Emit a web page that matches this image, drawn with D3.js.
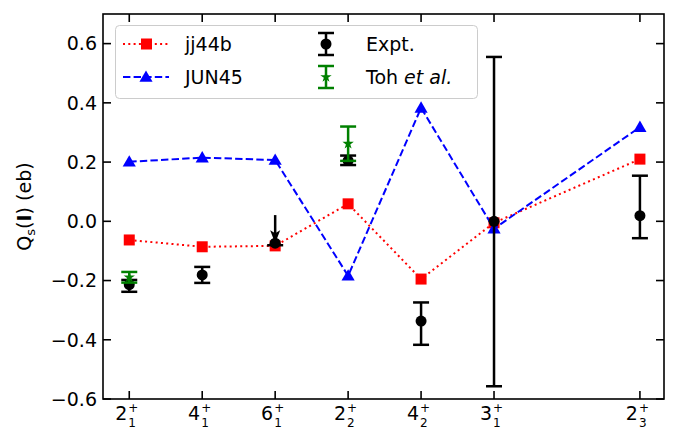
<!DOCTYPE html>
<html>
<head>
<meta charset="utf-8">
<script src="https://cdn.jsdelivr.net/npm/d3@7"></script>
<style>
  body { margin: 0; background: #fff; }
  svg { font-family: "DejaVu Sans", sans-serif; }
</style>
</head>
<body>
<div class="chart"></div>
<script>
// level labels: spin, index (subscript), parity (superscript)
const levelSpin = ['2', '4', '6', '2', '4', '3', '2'];
const levelIdx = ['1', '1', '1', '2', '2', '1', '3'];
const levelPos = [0, 1, 2, 3, 4, 5, 7];

const jj44b = [-0.063, -0.086, -0.083, 0.059, -0.195, -0.005, 0.21];
const jun45 = [0.201, 0.215, 0.207, -0.184, 0.383, -0.025, 0.318];

const exptPos = [0, 1, 2, 3, 4, 5, 7];
const exptVal = [-0.214, -0.181, -0.074, 0.205, -0.337, 0.0, 0.019];
const exptHi = [0.016, 0.027, 0.095, 0.017, 0.063, 0.555, 0.135];
const exptLo = [0.024, 0.027, 0.0, 0.015, 0.08, 0.557, 0.076];
const exptUpperLimit = [false, false, true, false, false, false, false];

const tohPos = [0, 3];
const tohVal = [-0.189, 0.262];
const tohErr = [0.018, 0.058];

const yTicks = [-0.6, -0.4, -0.2, 0.0, 0.2, 0.4, 0.6];

const width = 673, height = 430;
const margin = {top: 14, right: 9, bottom: 31, left: 103};
const fontSize = 19;

const svg = d3.select('.chart').append('svg')
    .attr('width', width)
    .attr('height', height);

const x = d3.scaleLinear()
    .domain([-0.36, 7.33])
    .range([margin.left, width - margin.right]);

const y = d3.scaleLinear()
    .domain([-0.6, 0.7])
    .range([height - margin.bottom, margin.top]);

// lines for the two calculations
const line = d3.line()
    .x((d, i) => x(levelPos[i]))
    .y(d => y(d));

svg.append('path')
    .datum(jj44b)
    .attr('d', line)
    .attr('fill', 'none')
    .attr('stroke', '#ff0000')
    .attr('stroke-width', 2)
    .attr('stroke-dasharray', '2,3.3');

svg.selectAll('.sq')
    .data(jj44b)
  .enter().append('rect')
    .attr('x', (d, i) => x(levelPos[i]) - 5.5)
    .attr('y', d => y(d) - 5.5)
    .attr('width', 11)
    .attr('height', 11)
    .attr('fill', '#ff0000');

svg.append('path')
    .datum(jun45)
    .attr('d', line)
    .attr('fill', 'none')
    .attr('stroke', '#0000ff')
    .attr('stroke-width', 2)
    .attr('stroke-dasharray', '7.4,3.2');

const tri = d3.symbol().type(d3.symbolTriangle).size(75);
svg.selectAll('.tri')
    .data(jun45)
  .enter().append('path')
    .attr('d', tri)
    .attr('transform', (d, i) => `translate(${x(levelPos[i])},${y(d) + 1})`)
    .attr('fill', '#0000ff');

// error bars
const drawErrorBar = function (g, cx, top, bottom, color, capW) {
  g.append('line')
      .attr('x1', cx).attr('x2', cx)
      .attr('y1', top).attr('y2', bottom)
      .attr('stroke', color).attr('stroke-width', 2.5);
  [top, bottom].forEach(cy => {
    g.append('line')
        .attr('x1', cx - capW / 2).attr('x2', cx + capW / 2)
        .attr('y1', cy).attr('y2', cy)
        .attr('stroke', color).attr('stroke-width', 2.5);
  });
};

const caretDown = 'M-5,-13L0,-10L5,-13L0,0Z';

const exptG = svg.append('g');
exptVal.forEach((v, i) => {
  const cx = x(exptPos[i]);
  if (exptUpperLimit[i]) {
    exptG.append('line')
        .attr('x1', cx).attr('x2', cx)
        .attr('y1', y(v + exptHi[i])).attr('y2', y(v))
        .attr('stroke', '#000').attr('stroke-width', 2.5);
    exptG.append('line')
        .attr('x1', cx - 8).attr('x2', cx + 8)
        .attr('y1', y(v) + 2).attr('y2', y(v) + 2)
        .attr('stroke', '#000').attr('stroke-width', 2.5);
    exptG.append('path')
        .attr('d', caretDown)
        .attr('transform', `translate(${cx},${y(v)})`)
        .attr('fill', '#000');
  } else {
    drawErrorBar(exptG, cx, y(v + exptHi[i]), y(v - exptLo[i]), '#000', 16);
  }
  exptG.append('circle')
      .attr('cx', cx).attr('cy', y(v))
      .attr('r', 5.5)
      .attr('fill', '#000');
});

const star = d3.symbol().type(d3.symbolStar).size(40);
const tohG = svg.append('g');
tohVal.forEach((v, i) => {
  const cx = x(tohPos[i]);
  drawErrorBar(tohG, cx, y(v + tohErr[i]), y(v - tohErr[i]), '#008000', 16);
  tohG.append('path')
      .attr('d', star)
      .attr('transform', `translate(${cx},${y(v)})`)
      .attr('fill', '#008000');
});

// frame and ticks (inward on all sides)
const x0 = margin.left, x1 = width - margin.right;
const y0 = margin.top, y1 = height - margin.bottom;
const tickLen = 8;

svg.append('rect')
    .attr('x', x0).attr('y', y0)
    .attr('width', x1 - x0).attr('height', y1 - y0)
    .attr('fill', 'none')
    .attr('stroke', '#000')
    .attr('stroke-width', 1.6);

const ticksG = svg.append('g')
    .attr('stroke', '#000')
    .attr('stroke-width', 1.6);

levelPos.forEach(p => {
  ticksG.append('line')
      .attr('x1', x(p)).attr('x2', x(p))
      .attr('y1', y1).attr('y2', y1 - tickLen);
  ticksG.append('line')
      .attr('x1', x(p)).attr('x2', x(p))
      .attr('y1', y0).attr('y2', y0 + tickLen);
});

yTicks.forEach(t => {
  ticksG.append('line')
      .attr('x1', x0).attr('x2', x0 + tickLen)
      .attr('y1', y(t)).attr('y2', y(t));
  ticksG.append('line')
      .attr('x1', x1).attr('x2', x1 - tickLen)
      .attr('y1', y(t)).attr('y2', y(t));
});

// y tick labels
const fmt = d3.format('.1f');
svg.append('g').selectAll('text')
    .data(yTicks)
  .enter().append('text')
    .attr('x', x0 - 6)
    .attr('y', d => y(d))
    .attr('dy', '0.36em')
    .attr('text-anchor', 'end')
    .attr('font-size', fontSize)
    .text(d => fmt(d).replace('-', '\u2212'));

// x tick labels: spin with stacked sub/superscript
const xl = svg.append('g');
levelPos.forEach((p, i) => {
  const cx = x(p);
  xl.append('text')
      .attr('x', cx - 2)
      .attr('y', y1 + 21)
      .attr('text-anchor', 'end')
      .attr('font-size', fontSize)
      .text(levelSpin[i]);
  xl.append('text')
      .attr('x', cx - 1)
      .attr('y', y1 + 13)
      .attr('font-size', 12)
      .text('+');
  xl.append('text')
      .attr('x', cx - 1)
      .attr('y', y1 + 28)
      .attr('font-size', 12)
      .text(levelIdx[i]);
});

// y axis title
const yt = svg.append('text')
    .attr('transform', `translate(31,${(y0 + y1) / 2}) rotate(-90)`)
    .attr('text-anchor', 'middle')
    .attr('font-size', fontSize);
yt.append('tspan').text('Q');
yt.append('tspan').attr('font-size', 13).attr('dy', 4).text('s');
yt.append('tspan').attr('dy', -4).text('(');
yt.append('tspan').attr('font-weight', 'bold').text('I');
yt.append('tspan').text(') (eb)');

// legend
const leg = svg.append('g');
leg.append('rect')
    .attr('x', 115.5).attr('y', 25.5)
    .attr('width', 362).attr('height', 73)
    .attr('rx', 4)
    .attr('fill', '#fff').attr('fill-opacity', 0.8)
    .attr('stroke', '#cccccc');

const row1 = 44, row2 = 77;

leg.append('line')
    .attr('x1', 123).attr('x2', 169).attr('y1', row1).attr('y2', row1)
    .attr('stroke', '#ff0000').attr('stroke-width', 2)
    .attr('stroke-dasharray', '2,3.3');
leg.append('rect')
    .attr('x', 141).attr('y', row1 - 5.5).attr('width', 11).attr('height', 11)
    .attr('fill', '#ff0000');
leg.append('text')
    .attr('x', 185).attr('y', row1).attr('dy', '0.36em')
    .attr('font-size', fontSize).text('jj44b');

leg.append('line')
    .attr('x1', 123).attr('x2', 169).attr('y1', row2).attr('y2', row2)
    .attr('stroke', '#0000ff').attr('stroke-width', 2)
    .attr('stroke-dasharray', '7.4,3.2');
leg.append('path')
    .attr('d', tri)
    .attr('transform', `translate(146,${row2 + 1})`)
    .attr('fill', '#0000ff');
leg.append('text')
    .attr('x', 185).attr('y', row2).attr('dy', '0.36em')
    .attr('font-size', fontSize).text('JUN45');

drawErrorBar(leg, 326, row1 - 11, row1 + 11, '#000', 16);
leg.append('circle')
    .attr('cx', 326).attr('cy', row1).attr('r', 5.5).attr('fill', '#000');
leg.append('text')
    .attr('x', 366).attr('y', row1).attr('dy', '0.36em')
    .attr('font-size', fontSize).text('Expt.');

drawErrorBar(leg, 326, row2 - 11, row2 + 11, '#008000', 16);
leg.append('path')
    .attr('d', star)
    .attr('transform', `translate(326,${row2})`)
    .attr('fill', '#008000');
const tohText = leg.append('text')
    .attr('x', 366).attr('y', row2).attr('dy', '0.36em')
    .attr('font-size', fontSize);
tohText.append('tspan').text('Toh ');
tohText.append('tspan').attr('font-style', 'italic').text('et al.');
</script>
</body>
</html>
